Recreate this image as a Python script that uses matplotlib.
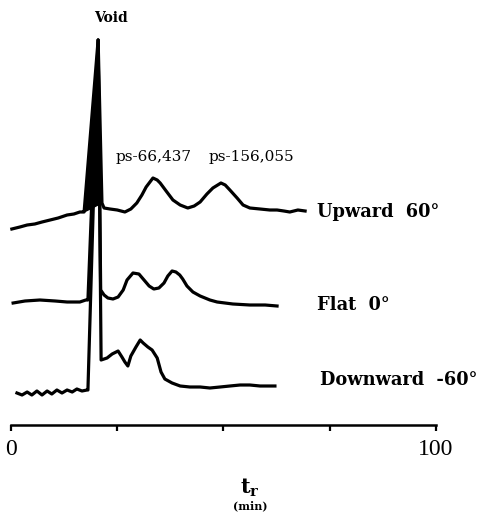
import matplotlib.pyplot as plt
import numpy as np

plt.rcParams['font.family'] = 'DejaVu Serif'
plt.rcParams['mathtext.fontset'] = 'dejavuserif'

# retention time (min) and detector response (arbitrary units)
up_t = [0.2, 2.1, 3.8, 5.6, 7.3, 9.2, 11.1, 13.2, 14.8, 16.2, 17.0, 17.2,
        20.5, 21.4, 21.9, 23.3, 25.0, 26.8, 28.2, 29.6, 30.8, 31.8, 33.4, 34.4,
        35.1, 36.5, 38.1, 39.8, 41.6, 43.1, 44.5, 46.1, 47.5, 49.4, 50.4, 51.5,
        53.2, 54.6, 56.2, 58.6, 60.9, 62.6, 64.2, 65.6, 67.5, 69.2]
up_y = [286, 288, 290, 291, 293, 295, 297, 300, 301, 303, 303, 303,
        475, 312, 307, 306, 305, 303, 306, 312, 320, 328, 337, 335,
        332, 324, 315, 310, 307, 309, 313, 321, 327, 332, 330, 325,
        317, 310, 307, 306, 305, 305, 304, 303, 305, 304]
up_void = (11, 14)  # indices of the void spike

flat_t = [0.5, 3.3, 6.8, 10.4, 13.2, 16.2, 17.6, 18.1,
          20.5, 21.1, 21.9, 22.8, 24.0, 25.2, 26.4, 27.3, 28.7, 30.1, 31.3,
          32.5, 33.6, 34.8, 36.0, 36.9, 37.9, 38.8, 39.7, 40.4, 41.4, 42.8,
          44.5, 46.8, 48.5, 52.2, 56.2, 59.8, 62.6]
flat_y = [212, 214, 215, 214, 213, 213, 215, 215,
          475, 225, 220, 217, 216, 218, 225, 235, 242, 241, 235, 229,
          226, 227, 232, 239, 244, 243, 240, 236, 229, 223, 219, 215,
          213, 211, 210, 210, 209]

down_t = [1.4, 2.6, 3.8, 4.9, 6.1, 7.3, 8.5, 9.6, 10.8, 12.0, 13.2, 14.4,
          15.5, 16.7, 17.9, 18.1,
          20.5, 21.2, 22.6, 23.8, 25.2, 26.1, 26.8, 27.5, 28.2, 29.4, 30.4,
          31.1, 32.2, 33.2, 34.4, 35.3, 36.2, 37.9, 39.8, 42.1, 44.5, 46.8,
          49.2, 51.5, 53.9, 56.2, 58.6, 62.1]
down_y = [122, 120, 123, 120, 124, 120, 124, 121, 125, 122, 125, 123,
          126, 124, 125, 125,
          475, 155, 157, 161, 164, 158, 153, 149, 159, 168, 175,
          172, 168, 165, 157, 143, 136, 132, 129, 128, 128, 127,
          128, 129, 130, 130, 129, 129]

tick_pos = [0, 25, 50, 75, 100]
tick_txt = ['0', '', '', '', '100']

fig = plt.figure(figsize=(5.01, 5.15), dpi=100)
ax = fig.add_axes([0, 0, 1, 1])
ax.set_xlim(-11 / 4.25, 490 / 4.25)
ax.set_ylim(0, 515)

lw = 2.3
ax.plot(up_t, up_y, color='black', lw=lw, solid_joinstyle='round')
ax.fill(up_t[up_void[0]:up_void[1]], up_y[up_void[0]:up_void[1]], color='black')
ax.plot(flat_t, flat_y, color='black', lw=lw, solid_joinstyle='round')
ax.plot(down_t, down_y, color='black', lw=lw, solid_joinstyle='round')

# time axis
for s in ['left', 'right', 'top']:
    ax.spines[s].set_visible(False)
ax.spines['bottom'].set_position(('data', 90))
ax.spines['bottom'].set_bounds(0, 100)
ax.spines['bottom'].set_linewidth(1.8)
ax.set_xticks(tick_pos)
ax.set_xticklabels(tick_txt, fontsize=17, family='Liberation Serif')
ax.tick_params(axis='x', direction='out', length=4, width=1.6, pad=6)
ax.set_yticks([])

ax.text(23.5, 497, 'Void', fontsize=10, fontweight='bold', ha='center', va='center')
ax.text(33.5, 358, 'ps-66,437', fontsize=11, ha='center', va='center')
ax.text(56.5, 358, 'ps-156,055', fontsize=11, ha='center', va='center')
ax.text(72.0, 303, 'Upward  60°', fontsize=12.8, fontweight='bold', ha='left', va='center')
ax.text(72.0, 210, 'Flat  0°', fontsize=12.8, fontweight='bold', ha='left', va='center')
ax.text(72.7, 135, 'Downward  -60°', fontsize=12.8, fontweight='bold', ha='left', va='center')

ax.text(56.2, 27, r'$\mathbf{t_r}$', fontsize=15, ha='center', va='center')
ax.text(56.2, 9, '(min)', fontsize=8, fontweight='bold', ha='center', va='center')

fig.savefig('out.png', dpi=100)
